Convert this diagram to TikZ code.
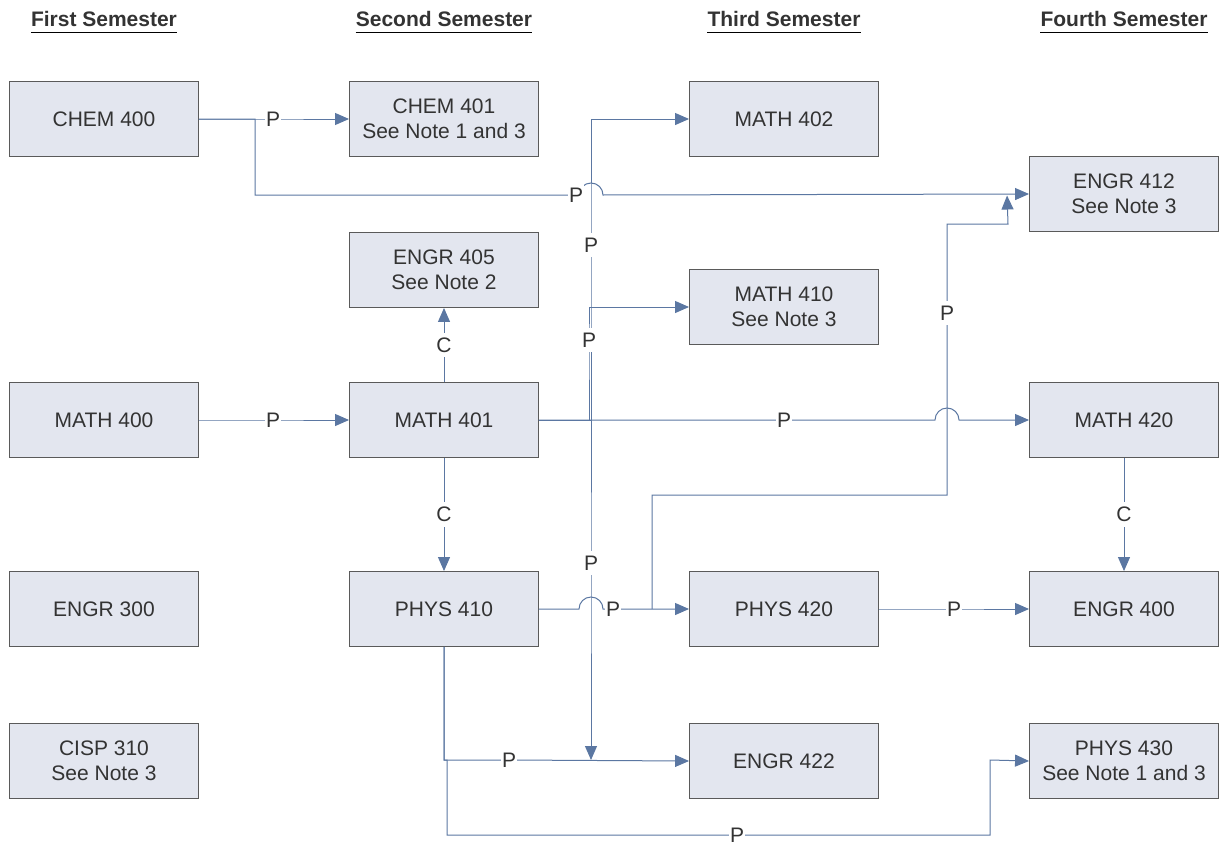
\documentclass[tikz,border=0pt]{standalone}
\usepackage{fontspec}
\setmainfont{Liberation Sans}
\usetikzlibrary{arrows.meta,calc}

\definecolor{boxfill}{HTML}{E3E6EF}
\definecolor{boxline}{HTML}{5A5A5A}
\definecolor{linkcol}{HTML}{5B77A2}
\definecolor{txtcol}{HTML}{333333}

\begin{document}
\begin{tikzpicture}[x=1pt, y=-1pt,
    course/.style={draw=boxline, fill=boxfill, line width=0.9pt, minimum width=189pt,
      minimum height=75pt, inner sep=0pt, align=center, text=txtcol,
      font=\fontsize{21}{25.5}\selectfont},
    sem/.style={anchor=base, inner xsep=0pt, text=txtcol, font=\fontsize{21}{25}\selectfont\bfseries,
      append after command={[draw=txtcol, line width=1.5pt]
        ([yshift=-5pt]\tikzlastnode.base west) edge ([yshift=-5pt]\tikzlastnode.base east)}},
    link/.style={draw=linkcol, line width=1pt, -{Triangle[length=14pt,width=12pt]}},
    lbl/.style={fill=white, inner xsep=1pt, inner ysep=5pt, text=txtcol,
      font=\fontsize{21}{25}\selectfont}]
    \useasboundingbox (0,0) rectangle (1220,843);
    % semester headings
    \node[sem] (s1) at (104,27)  {First Semester};
    \node[sem] (s2) at (444,27)  {Second Semester};
    \node[sem] (s3) at (784,27)  {Third Semester};
    \node[sem] (s4) at (1124,27) {Fourth Semester};
    % first semester
    \node[course] (c400) at (104,119) {CHEM 400};
    \node[course] (m400) at (104,420) {MATH 400};
    \node[course] (e300) at (104,609) {ENGR 300};
    \node[course] (c310) at (104,761) {CISP 310\\See Note 3};
    % second semester
    \node[course] (c401) at (444,119) {CHEM 401\\See Note 1 and 3};
    \node[course] (e405) at (444,270) {ENGR 405\\See Note 2};
    \node[course] (m401) at (444,420) {MATH 401};
    \node[course] (p410) at (444,609) {PHYS 410};
    % third semester
    \node[course] (m402) at (784,119) {MATH 402};
    \node[course] (m410) at (784,307) {MATH 410\\See Note 3};
    \node[course] (p420) at (784,609) {PHYS 420};
    \node[course] (e422) at (784,761) {ENGR 422};
    % fourth semester
    \node[course] (e412) at (1124,194) {ENGR 412\\See Note 3};
    \node[course] (m420) at (1124,420) {MATH 420};
    \node[course] (e400) at (1124,609) {ENGR 400};
    \node[course] (p430) at (1124,761) {PHYS 430\\See Note 1 and 3};
    % free ends on other connectors
    \coordinate (j422) at (591,760);
    \coordinate (j412) at ($(e412.west)+(-22,1.5)$);
    \coordinate (b420) at (652,609);
    % prerequisites (P) and corequisites (C)
    \draw[link] (c400.east) -- (273,119) node[lbl]{P} -- (c401.west);
    \draw[link] (c400.east) -| (255,195) -- (576,195) node[lbl]{P}
      -- (579,195) arc[start angle=180, end angle=0, radius=12pt] -- (e412.west);
    \draw[link] (m400.east) -- (273,420) node[lbl]{P} -- (m401.west);
    \draw[link] (m401.north) -- node[lbl]{C} (e405.south);
    \draw[link] (m401.south) -- node[lbl]{C} (p410.north);
    \draw[link] (m401.east) -| (591,245) node[lbl]{P} |- (m402.west);
    \draw[link] (m401.east) -| (589,340) node[lbl]{P} |- (m410.west);
    \draw[link] (m401.east) -| (591,563) node[lbl]{P} -- (j422);
    \draw[link] (m401.east) -- (784,420) node[lbl]{P}
      -- (935,420) arc[start angle=180, end angle=0, radius=12pt] -- (m420.west);
    \draw[link] (m420.south) -- node[lbl]{C} (e400.north);
    \draw[link] (p410.east) -- (579,609) arc[start angle=180, end angle=0, radius=12pt]
      -- (613,609) node[lbl]{P} -- (p420.west);
    \draw[link] (b420) |- (947,495) -- (947,313) node[lbl]{P} |- (1008,224) -- (j412);
    \draw[link] (p420.east) -- (954,609) node[lbl]{P} -- (e400.west);
    \draw[link] (p410.south) |- (509,760) node[lbl]{P} -- (e422.west);
    \draw[link] (p410.south) |- (447,760) |- (737,835) node[lbl]{P} -| (990,760) -- (p430.west);
\end{tikzpicture}
\end{document}
